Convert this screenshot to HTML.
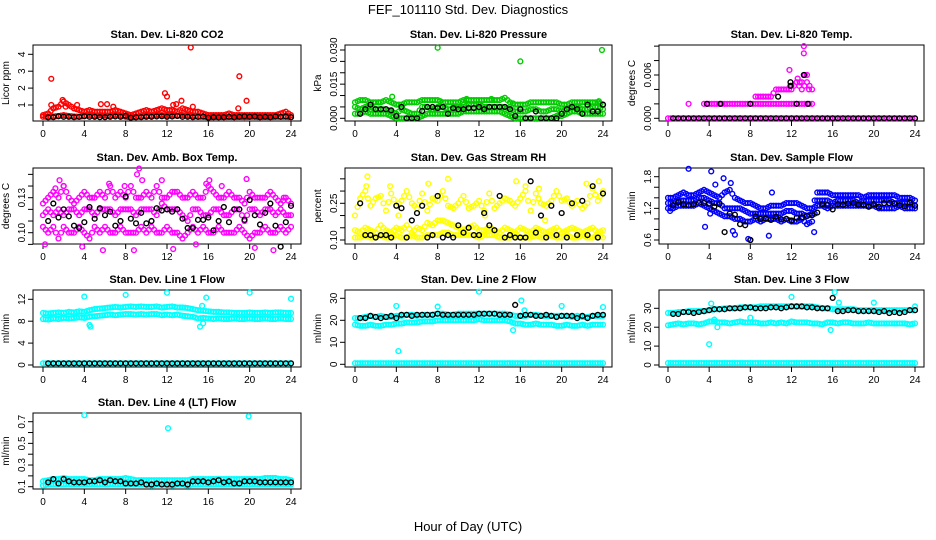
<!DOCTYPE html>
<html><head><meta charset="utf-8"><style>
html,body{margin:0;padding:0;background:#fff;}
svg{display:block;font-family:"Liberation Sans",Arial,sans-serif;}
</style></head><body>
<svg id="chart" width="936" height="540" viewBox="0 0 936 540"></svg>
<script>
// ---- data (hour grid 0..24 step 0.5 -> 49 values; null = no point) ----
const hours = [];for(let i=0;i<=48;i++)hours.push(i/2);
const titles = ["Stan. Dev. Li-820 CO2","Stan. Dev. Li-820 Pressure","Stan. Dev. Li-820 Temp.","Stan. Dev. Amb. Box Temp.","Stan. Dev. Gas Stream RH","Stan. Dev. Sample Flow","Stan. Dev. Line 1 Flow","Stan. Dev. Line 2 Flow","Stan. Dev. Line 3 Flow","Stan. Dev. Line 4 (LT) Flow"];
const yTitles = ["Licor ppm","kPa","degrees C","degrees C","percent","ml/min","ml/min","ml/min","ml/min","ml/min"];
const colors = ["#ff0000","#00cc00","#ff00ff","#ff00ff","#ffff00","#0000ff","#00ffff","#00ffff","#00ffff","#00ffff"];
const xTicks = [0,4,8,12,16,20,24];
const yTicks = [[1,2,3,4],[0,0.005,0.01,0.015,0.02,0.025,0.03],[0,0.002,0.004,0.006,0.008,0.01],[0.09,0.1,0.11,0.12,0.13,0.14,0.15],[0.1,0.15,0.2,0.25,0.3,0.35],[0.6,0.8,1.0,1.2,1.4,1.6,1.8],[0,4,8,12],[0,10,20,30],[0,10,20,30],[0.1,0.2,0.3,0.4,0.5,0.6,0.7]];
const yTickLabels = [["1","2","3","4"],["0.000","","","0.015","","","0.030"],["0.000","","","0.006","",""],["","0.10","","","0.13","",""],["0.10","","","0.25","",""],["0.6","","","1.2","","","1.8"],["0","4","8","12"],["0","10","20","30"],["0","10","20","30"],["0.1","","0.3","","0.5","","0.7"]];

// CO2
const co2Hi=[0.4,0.5,0.8,0.9,1.2,1.0,0.8,0.7,0.6,0.7,0.6,0.6,0.6,0.6,0.7,0.6,0.5,0.4,0.5,0.6,0.7,0.6,0.7,0.8,0.7,0.7,0.6,0.8,0.7,0.6,0.6,0.5,0.4,0.4,0.4,0.4,0.5,0.4,0.4,0.4,0.4,0.4,0.4,0.4,0.4,0.4,0.5,0.6,0.4];
const co2Lo=[0.3,0.3,0.32,0.35,0.4,0.35,0.32,0.3,0.35,0.4,0.35,0.4,0.38,0.35,0.4,0.38,0.3,0.28,0.3,0.32,0.35,0.35,0.4,0.4,0.38,0.4,0.35,0.4,0.38,0.35,0.3,0.3,0.28,0.28,0.3,0.28,0.3,0.28,0.3,0.28,0.3,0.3,0.28,0.3,0.28,0.3,0.3,0.3,0.28];
const co2Blk=[null,0.27,0.28,0.33,0.3,0.3,0.28,0.3,0.33,0.3,0.3,0.28,0.28,0.3,0.32,0.3,0.36,0.25,0.27,0.28,0.3,0.3,0.32,0.33,0.3,0.32,0.35,0.3,0.3,0.28,0.3,0.32,0.25,0.28,0.27,0.28,0.3,0.28,0.3,0.33,0.3,0.32,0.28,0.3,0.28,0.32,0.3,0.32,0.28];
const co2Out=[[0.8,2.55],[0.8,1.0],[14.3,4.4],[19,2.7],[19.7,1.25],[11.8,1.7],[12,1.5],[13.4,1.25],[5.6,1.05],[6.2,1.05],[3.3,1.0],[1.9,1.3],[18.9,0.8],[14.5,0.9],[12.6,1.0],[12.9,1.05],[2.2,0.9],[6.8,0.9]];
// Pressure
const prHi=[0.007,0.008,0.008,0.007,0.007,0.007,0.008,0.007,0.006,0.006,0.007,0.007,0.007,0.008,0.008,0.008,0.008,0.007,0.007,0.007,0.007,0.008,0.008,0.008,0.008,0.008,0.008,0.008,0.008,0.009,0.007,0.006,0.006,0.006,0.007,0.007,0.007,0.007,0.007,0.007,0.006,0.006,0.007,0.007,0.007,0.007,0.007,0.007,0.006];
const prMid=[0.005,0.004,0.005,0.005,0.004,0.004,0.004,0.003,0.002,0.004,0.003,0.002,0.002,0.005,0.005,0.004,0.005,0.005,0.004,0.004,0.005,0.005,0.006,0.006,0.006,0.005,0.005,0.005,0.005,0.005,0.004,0.003,0.003,0.003,0.004,0.004,0.003,0.003,0.004,0.004,0.003,0.004,0.005,0.005,0.004,0.004,0.005,0.005,0.004];
const prLo=[0.002,0.002,0.003,0.002,0.002,0.002,0.002,0.001,0.0,0.0,0.0,0.0,0.0,0.001,0.002,0.002,0.002,0.002,0.002,0.002,0.002,0.003,0.003,0.003,0.003,0.003,0.003,0.003,0.003,0.002,0.001,0.0,0.0,0.0,0.0,0.0,0.0,0.0,0.0,0.001,0.001,0.002,0.003,0.003,0.002,0.002,0.002,0.002,0.002];
const prBlk=[null,0.002,0.004,0.006,0.004,0.004,0.004,0.0035,0.001,0.005,0.0,0.0,0.0,0.0032,0.005,0.005,0.0045,0.005,0.002,0.0045,0.004,0.004,0.0045,0.0045,0.005,0.004,0.005,0.005,0.005,0.005,0.004,0.001,0.004,0.0,0.0,0.003,0.0,0.0,0.0,0.0,0.002,0.004,0.005,0.004,0.002,0.006,0.003,0.003,0.006];
const prOut=[[8,0.031],[16,0.025],[23.9,0.030],[3.6,0.0095],[10.8,0.0085],[2.3,0.007],[8.2,0.0075],[13.2,0.0085],[15.3,0.0065],[23.6,0.0075]];
// Li-820 temp
const ltZero=[0,0,0,0,0,0,0,0,0,0,0,0,0,0,0,0,0,0,0,0,0,0,0,0,0,0,0,0,0,0,0,0,0,0,0,0,0,0,0,0,0,0,0,0,0,0,0,0,0];
const ltStep=[null,null,null,null,0.002,null,null,0.002,0.002,0.002,0.002,0.002,0.002,0.002,0.002,0.002,0.002,0.002,0.002,0.002,0.002,0.002,0.002,0.002,0.002,0.002,0.002,0.002,0.002,null,null,null,null,null,null,null,null,null,null,null,null,null,null,null,null,null,null,null,null];
const ltHi=[null,null,null,null,null,null,null,null,null,null,null,null,null,null,null,null,null,0.003,0.003,0.003,0.003,0.004,0.004,0.004,0.004,0.005,0.004,0.005,0.004,null,null,null,null,null,null,null,null,null,null,null,null,null,null,null,null,null,null,null,null];
const ltOut=[[11.8,0.0067],[13.2,0.009],[13.2,0.010],[12.8,0.005],[13,0.005],[12,0.0045],[13.3,0.006],[13.5,0.006],[12.6,0.0055],[13.7,0.004]];
const ltBlk=[null,0,0,0,0,0,0,0,0,0,0,0,0,0,0,0,0,0,0,0,0,0,0,0,0,0,0,0,0,0,0,0,0,0,0,0,0,0,0,0,0,0,0,0,0,0,0,0,0];
const ltBlkOut=[[3.8,0.002],[5.1,0.002],[8,0.002],[10.7,0.003],[12.5,0.002],[13.6,0.002],[11.9,0.0045],[11.9,0.005],[13.2,0.006]];
// Amb box temp
const abHi=[0.125,0.13,0.135,0.13,0.14,0.13,0.125,0.13,0.135,0.13,0.13,0.135,0.13,0.14,0.13,0.135,0.13,0.14,0.13,0.13,0.135,0.13,0.14,0.13,0.13,0.135,0.135,0.13,0.13,0.135,0.13,0.13,0.14,0.135,0.13,0.13,0.135,0.13,0.13,0.125,0.135,0.13,0.13,0.13,0.135,0.13,0.125,0.13,0.125];
const abMid=[0.115,0.12,0.115,0.12,0.115,0.12,0.12,0.115,0.12,0.12,0.115,0.12,0.12,0.12,0.115,0.12,0.12,0.12,0.115,0.12,0.12,0.12,0.115,0.125,0.12,0.12,0.12,0.115,0.11,0.12,0.12,0.115,0.115,0.12,0.12,0.115,0.115,0.12,0.12,0.11,0.12,0.12,0.115,0.12,0.12,0.115,0.12,0.115,0.115];
const abLo=[0.105,0.1,0.105,0.095,0.105,0.1,0.1,0.105,0.1,0.095,0.105,0.1,0.105,0.1,0.1,0.105,0.1,0.1,0.1,0.105,0.1,0.105,0.1,0.1,0.105,0.1,0.1,0.095,0.1,0.105,0.1,0.105,0.1,0.1,0.105,0.1,0.1,0.1,0.105,0.1,0.095,0.1,0.1,0.105,0.1,0.1,0.105,0.1,0.105];
const abOut=[[0.2,0.09],[1.6,0.145],[2,0.14],[3.8,0.088],[5.8,0.085],[6.4,0.142],[7.9,0.14],[9.1,0.15],[9.3,0.155],[9.6,0.145],[11.5,0.145],[12.6,0.086],[14.8,0.09],[15.8,0.142],[16.1,0.145],[17.3,0.14],[19.7,0.146],[20.5,0.087],[22.3,0.085],[23.3,0.13],[1.2,0.138],[8.8,0.085]];
const abBlk=[null,0.11,0.125,0.113,0.12,0.114,0.106,0.104,0.109,0.122,0.112,0.121,0.115,0.118,0.106,0.11,0.131,0.112,0.108,0.117,0.108,0.11,0.121,0.119,0.12,0.118,0.12,0.112,0.104,0.104,0.111,0.111,0.113,0.102,0.11,0.122,0.109,0.12,0.12,0.111,0.128,0.115,0.107,0.117,0.125,0.106,0.088,0.109,0.123];
// RH
const rhLo=[0.11,0.11,0.12,0.11,0.11,0.12,0.11,0.11,0.12,0.11,0.11,0.12,0.11,0.11,0.12,0.12,0.12,0.13,0.13,0.12,0.12,0.12,0.12,0.12,0.11,0.12,0.12,0.12,0.11,0.11,0.11,0.12,0.11,0.11,0.11,0.12,0.11,0.11,0.12,0.11,0.11,0.12,0.11,0.11,0.12,0.11,0.11,0.12,0.11];
const rhMid=[0.14,0.13,0.15,0.14,0.13,0.16,0.14,0.13,0.15,0.14,0.16,0.13,0.15,0.14,0.17,0.16,0.18,0.18,0.17,0.16,0.15,0.14,0.15,0.16,0.14,0.14,0.15,0.14,0.13,0.15,0.14,0.13,0.15,0.14,0.13,0.15,0.14,0.13,0.14,0.15,0.13,0.14,0.15,0.14,0.13,0.14,0.15,0.13,0.14];
const rhHi=[0.2,0.27,0.3,0.24,0.27,0.28,0.22,0.29,0.24,0.26,0.3,0.25,0.23,0.29,0.22,0.27,0.26,0.3,0.24,0.23,0.25,0.28,0.23,0.24,0.26,0.22,0.29,0.23,0.25,0.27,0.26,0.24,0.27,0.3,0.22,0.29,0.25,0.24,0.26,0.3,0.26,0.27,0.24,0.26,0.23,0.25,0.31,0.26,0.3];
const rhOut=[[1.2,0.36],[1.1,0.32],[3.4,0.32],[7.1,0.33],[9,0.35],[15.6,0.34],[16.5,0.32],[17.8,0.31],[22.4,0.33],[23.6,0.34],[4.2,0.2],[12.6,0.2],[18.4,0.18]];
const rhBlk=[null,0.25,0.12,0.12,0.11,0.12,0.12,0.11,0.24,0.23,0.11,0.18,0.21,0.24,0.11,0.12,0.28,0.11,0.12,0.11,0.16,0.13,0.15,0.12,0.12,0.21,0.16,0.14,0.28,0.11,0.12,0.11,0.11,0.11,0.34,0.13,0.2,0.11,0.24,0.12,0.21,0.11,0.25,0.12,0.26,0.12,0.32,0.11,0.29];
// Sample flow
const sfHi=[1.4,1.4,1.45,1.5,1.45,1.45,1.5,1.55,1.5,1.45,1.4,1.5,1.55,1.4,1.35,1.3,1.3,1.25,1.2,1.2,1.25,1.25,1.25,1.3,1.3,1.3,1.25,1.2,1.2,1.5,1.5,1.5,1.45,1.45,1.45,1.45,1.45,1.45,1.4,1.45,1.45,1.45,1.45,1.45,1.45,1.4,1.4,1.4,1.35];
const sfMid=[1.3,1.3,1.35,1.35,1.35,1.35,1.4,1.4,1.35,1.3,1.3,1.2,1.2,1.2,1.2,1.15,1.1,1.1,1.1,1.1,1.1,1.1,1.1,1.15,1.15,1.1,1.1,1.05,1.1,1.35,1.35,1.35,1.3,1.35,1.35,1.35,1.35,1.3,1.35,1.35,1.35,1.35,1.35,1.35,1.3,1.3,1.3,1.3,1.25];
const sfLo=[1.2,1.2,1.25,1.25,1.25,1.25,1.3,1.25,1.2,1.15,1.1,1.05,1.05,1.0,1.0,0.95,0.95,1.0,0.95,1.0,1.0,1.0,0.95,1.0,0.95,0.95,1.0,0.9,0.95,1.25,1.25,1.2,1.25,1.25,1.25,1.25,1.25,1.25,1.25,1.25,1.25,1.2,1.2,1.2,1.2,1.25,1.2,1.2,1.2];
const sfOut=[[2,1.95],[4.2,1.9],[5.4,1.77],[6.1,1.68],[0.2,1.15],[3.6,0.85],[6.3,0.77],[6.5,0.7],[7.8,0.62],[8,0.6],[9.8,0.68],[10.1,1.5],[14.2,0.75],[4.1,1.1],[4.6,1.65]];
const sfBlk=[null,1.26,1.32,1.28,1.26,1.28,1.3,1.3,1.29,1.23,1.28,0.75,1.1,1.08,0.9,0.88,0.6,1.05,1.0,1.01,0.98,1.04,0.99,1.0,0.97,1.02,1.03,1.06,1.07,1.12,1.28,1.26,1.18,1.28,1.27,1.29,1.3,1.27,1.27,1.23,1.28,1.23,1.3,1.3,1.29,1.26,1.24,1.31,1.25];
// Line 1
const l1Hi=[9.5,9.4,9.5,9.6,9.5,9.7,9.6,9.8,9.7,10.0,10.2,10.3,10.4,10.5,10.6,10.5,10.6,10.7,10.6,10.7,10.6,10.6,10.7,10.5,10.6,10.7,10.5,10.5,10.4,10.2,10.0,9.9,9.8,9.7,9.7,9.6,9.6,9.5,9.5,9.5,9.6,9.5,9.5,9.6,9.5,9.6,9.6,9.5,9.5];
const l1Lo=[8.4,8.3,8.5,8.4,8.6,8.5,8.6,8.7,8.6,8.8,8.9,9.0,9.1,9.2,9.1,9.2,9.3,9.3,9.2,9.3,9.2,9.3,9.3,9.1,9.2,9.1,9.2,9.0,8.9,8.8,8.5,8.6,8.5,8.4,8.5,8.4,8.4,8.5,8.4,8.4,8.5,8.4,8.4,8.5,8.4,8.4,8.5,8.4,8.4];
const l1Base=[0.3,0.3,0.3,0.3,0.3,0.3,0.3,0.3,0.3,0.3,0.3,0.3,0.3,0.3,0.3,0.3,0.3,0.3,0.3,0.3,0.3,0.3,0.3,0.3,0.3,0.3,0.3,0.3,0.3,0.3,0.3,0.3,0.3,0.3,0.3,0.3,0.3,0.3,0.3,0.3,0.3,0.3,0.3,0.3,0.3,0.3,0.3,0.3,0.3];
const l1Out=[[4,12.5],[8,12.8],[12,13.2],[15.8,12.3],[20,13.2],[24,12.1],[4.5,7.3],[4.6,7.0],[15.2,7.0],[15.5,7.6],[15.4,10.8]];
const l1Blk=[null,0.3,0.3,0.3,0.3,0.3,0.3,0.3,0.3,0.3,0.3,0.3,0.3,0.3,0.3,0.3,0.3,0.3,0.3,0.3,0.3,0.3,0.3,0.3,0.3,0.3,0.3,0.3,0.3,0.3,0.3,0.3,0.3,0.3,0.3,0.3,0.3,0.3,0.3,0.3,0.3,0.3,0.3,0.3,0.3,0.3,0.3,0.3,0.3];
// Line 2
const l2Hi=[21,21,21.5,22,21.5,22,21.5,21.5,22,22,22.5,22.5,22,22.5,22.5,22.5,23,23,22.5,22.5,23,23,23,23,23,23,23,23,23,23,22.5,22,22,22,22.5,22.5,22,22,22,22,22,22,21.5,22,21.5,21.5,22,22,22];
const l2Lo=[18,17.5,17.5,18,17.5,17.5,18,18,18.5,18.5,19,19,19,19.5,19.5,19.5,20,20,20,20,20,20,20,20,20.5,20,20,20,20,20,19.5,18.5,18.5,18,18,18.5,18,18,18,17.5,17.5,18,17.5,17.5,18,17.5,18,18,18];
const l2Base=[0.5,0.5,0.5,0.5,0.5,0.5,0.5,0.5,0.5,0.5,0.5,0.5,0.5,0.5,0.5,0.5,0.5,0.5,0.5,0.5,0.5,0.5,0.5,0.5,0.5,0.5,0.5,0.5,0.5,0.5,0.5,0.5,0.5,0.5,0.5,0.5,0.5,0.5,0.5,0.5,0.5,0.5,0.5,0.5,0.5,0.5,0.5,0.5,0.5];
const l2Out=[[4,26.5],[4.2,6],[8,26.2],[12,33],[16.1,29],[16.4,24.5],[15.3,15.5],[20,26.5],[24,26]];
const l2Blk=[null,21,21,22,21.5,21,21.5,22,21,22.5,22.5,22,22.5,22.5,22.5,22.5,23,22.5,22.5,22.5,22.5,22.5,22.5,22.5,23,23,23,23,22.5,22.5,22.5,27,22,22.5,22.5,22,22,22.5,22,21.5,22,22,22,21,22,21,22,22.5,22.5];
// Line 3
const l3Hi=[27.5,27.5,28,28,28.5,28.5,28.5,28.5,29,29.5,29.5,30,30,30,30.5,30.5,30.5,30.5,31,31,31,31,31,31,31,31,31,31,31,30.5,30,30,29.5,29.5,29.5,29.5,29.5,29,29,29,29,29,29,29,29,29,29,29,29];
const l3Lo=[21,21.5,22,21.5,22,22,21.5,22,23,23,22.5,22.5,22,22.5,23,22.5,22.5,22.5,22,22,22.5,22,22.5,22,23,22.5,22.5,22.5,22,22,21.5,22.5,22.5,22,22.5,22.5,22,22,22,22.5,22,22,22,22,22,22,22,21.5,22];
const l3Base=[1,1,1,1,1,1,1,1,1,1,1,1,1,1,1,1,1,1,1,1,1,1,1,1,1,1,1,1,1,1,1,1,1,1,1,1,1,1,1,1,1,1,1,1,1,1,1,1,1];
const l3Out=[[4,11],[4.2,32.5],[4.5,24],[4.8,20],[8,25],[12,36],[15.8,18.5],[16.2,38.5],[16.6,33],[20,33],[24,31]];
const l3Blk=[null,27,27,28,28,27.5,28,28.5,29,29.5,29.5,29.5,30,30,30,30.5,30.5,30,30,30,30.5,30.5,30,30.5,31,31,31,30.5,30.5,30,30,30,35.5,28.5,28.5,29,29,28.5,28.5,28.5,28.5,28,28.5,27.5,28,27.5,28,29,29];
// Line 4
const l4Hi=[0.15,0.16,0.17,0.17,0.18,0.17,0.17,0.17,0.17,0.16,0.16,0.17,0.17,0.17,0.17,0.17,0.18,0.17,0.16,0.16,0.16,0.16,0.16,0.16,0.16,0.16,0.16,0.16,0.16,0.17,0.17,0.17,0.17,0.17,0.17,0.17,0.17,0.17,0.17,0.17,0.17,0.17,0.17,0.18,0.18,0.18,0.17,0.17,0.16];
const l4Lo=[0.11,0.12,0.12,0.12,0.12,0.12,0.12,0.12,0.12,0.12,0.12,0.12,0.12,0.12,0.12,0.12,0.12,0.12,0.12,0.12,0.12,0.11,0.12,0.12,0.12,0.11,0.12,0.12,0.11,0.12,0.12,0.12,0.12,0.12,0.12,0.12,0.12,0.12,0.12,0.12,0.12,0.12,0.12,0.12,0.12,0.12,0.12,0.12,0.12];
const l4Out=[[4,0.76],[12.1,0.64],[19.9,0.75]];
const l4Blk=[null,0.14,0.17,0.13,0.17,0.15,0.14,0.14,0.14,0.15,0.15,0.16,0.14,0.16,0.15,0.15,0.13,0.13,0.13,0.14,0.12,0.12,0.13,0.12,0.12,0.12,0.13,0.13,0.12,0.15,0.15,0.15,0.14,0.15,0.16,0.14,0.15,0.13,0.13,0.15,0.15,0.15,0.14,0.14,0.14,0.14,0.14,0.14,0.14];

const seriesColored=[[co2Hi,co2Lo],[prHi,prMid,prLo],[ltZero,ltStep,ltHi],[abHi,abMid,abLo],[rhLo,rhMid,rhHi],[sfHi,sfMid,sfLo],[l1Hi,l1Lo,l1Base],[l2Hi,l2Lo,l2Base],[l3Hi,l3Lo,l3Base],[l4Hi,l4Lo]];
const seriesOutliers=[co2Out,prOut,ltOut,abOut,rhOut,sfOut,l1Out,l2Out,l3Out,l4Out];
const seriesBlack=[co2Blk,prBlk,ltBlk,abBlk,rhBlk,sfBlk,l1Blk,l2Blk,l3Blk,l4Blk];
const blackOutliers=[[],[],ltBlkOut,[],[],[],[],[],[],[]];

// ---- layout (pixels) ----
const cols=[[33,301,43,291],[345,612,355,603],[659,924,668,915]];
const rows=[[45,121],[168,244],[290,367],[413,489]];
const calib=[[1,105,4,54.3],[0,118.3,0.03,50],[0,118.3,0.006,75],[0.10,232.7,0.13,197.7],[0.10,240,0.25,203.3],[0.6,240,1.8,176.7],[0,365,12,299.3],[0,364.3,30,298.3],[0,365,30,308.3],[0.1,486.7,0.7,421.7]];

const NS="http://www.w3.org/2000/svg";
const svg=document.getElementById('chart');
function mk(tag,attrs,parent){const e=document.createElementNS(NS,tag);for(const k in attrs)e.setAttribute(k,attrs[k]);(parent||svg).appendChild(e);return e;}

let t=mk('text',{x:468,y:14,'text-anchor':'middle','font-size':13});
t.textContent="FEF_101110  Std. Dev. Diagnostics";


t=mk('text',{x:468,y:531,'text-anchor':'middle','font-size':13});
t.textContent="Hour of Day (UTC)";



for(let p=0;p<10;p++){
  const c=cols[p%3],r=rows[Math.floor(p/3)],cb=calib[p];
  const xS=h=>c[2]+(c[3]-c[2])*h/24;
  const yS=v=>cb[1]+(v-cb[0])*(cb[3]-cb[1])/(cb[2]-cb[0]);
  const g=mk('g',{});
  
  
  const box=mk('rect',{x:c[0],y:r[0],width:c[1]-c[0],height:r[1]-r[0],fill:'none',stroke:'#000','stroke-width':1},g);
  
  
  const tt=mk('text',{x:(c[0]+c[1])/2,y:r[0]-7,'text-anchor':'middle','font-size':11,'font-weight':'bold'},g);
  tt.textContent=titles[p];
  
  
  const yt=mk('text',{transform:`translate(${c[0]-24},${(r[0]+r[1])/2}) rotate(-90)`,'text-anchor':'middle','font-size':10},g);
  yt.textContent=yTitles[p];
  
  
  // x axis
  mk('line',{x1:xS(0),x2:xS(24),y1:r[1],y2:r[1],stroke:'#000'},g);
  xTicks.forEach(h=>{
    mk('line',{x1:xS(h),x2:xS(h),y1:r[1],y2:r[1]+5,stroke:'#000'},g);
    const l=mk('text',{x:xS(h),y:r[1]+16,'text-anchor':'middle','font-size':10},g);
    l.textContent=h;
    
    
  });
  // y axis
  const yt0=yTicks[p];
  mk('line',{x1:c[0],x2:c[0],y1:yS(yt0[0]),y2:yS(yt0[yt0.length-1]),stroke:'#000'},g);
  yt0.forEach((v,i)=>{
    const y=yS(v);
    mk('line',{x1:c[0]-5,x2:c[0],y1:y,y2:y,stroke:'#000'},g);
    if(yTickLabels[p][i]){
      const l=mk('text',{transform:`translate(${c[0]-8},${y}) rotate(-90)`,'text-anchor':'middle','font-size':10},g);
      l.textContent=yTickLabels[p][i];
      
      
    }
  });
  const col=colors[p];
  const dot=(h,v,stroke,name)=>{
    const e=mk('circle',{cx:xS(h),cy:yS(v),r:2.4,fill:'none',stroke:stroke,'stroke-width':1.4},g);
    
    
  };
  seriesColored[p].forEach(arr=>arr.forEach((v,i)=>{if(v!==null){dot(hours[i],v,col,'data-point');if(i<48){const v2=arr[i+1];if(v2!==null)dot(hours[i]+0.25,(v+v2)/2,col,'data-point');}}}));
  seriesOutliers[p].forEach(o=>dot(o[0],o[1],col,'outlier-point'));
  seriesBlack[p].forEach((v,i)=>{if(v!==null)dot(hours[i],v,'#000','hourly-mean-point');});
  blackOutliers[p].forEach(o=>dot(o[0],o[1],'#000','hourly-mean-point'));
}
</script>
</body></html>
